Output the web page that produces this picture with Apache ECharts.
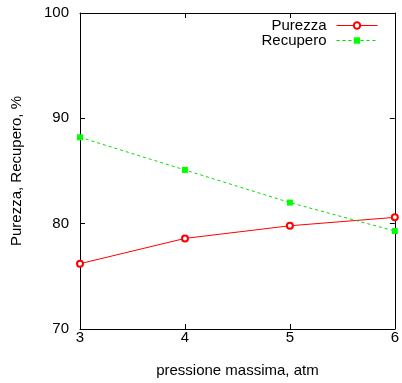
<!DOCTYPE html>
<html>
<head>
<meta charset="utf-8">
<style>
  html, body { margin: 0; padding: 0; background: #ffffff; }
  #chart { width: 402px; height: 383px; }
</style>
<script src="https://cdn.jsdelivr.net/npm/echarts@6/dist/echarts.min.js"></script>
</head>
<body>
<div id="chart"></div>
<script>
// Pressure values (atm) and measured percentages
const pressioni = [3, 4, 5, 6];
const purezza = [76.2, 78.6, 79.8, 80.6];
const recupero = [88.2, 85.1, 82.0, 79.3];

const xTicks = { min: 3, max: 6, interval: 1 };
const yTicks = { min: 70, max: 100, interval: 10 };

const FONT = 'Liberation Sans, Arial, sans-serif';
const FS = 15;

const chart = echarts.init(document.getElementById('chart'), null, { renderer: 'canvas' });

const axisCommon = {
  axisLine: { show: true, onZero: false, lineStyle: { color: '#000', width: 1 } },
  axisTick: { show: true, inside: true, length: 5, lineStyle: { color: '#000', width: 1 } },
  splitLine: { show: false },
  minorTick: { show: false }
};

chart.setOption({
  animation: false,
  backgroundColor: '#ffffff',
  grid: { left: 80, right: 6, top: 13, bottom: 54, containLabel: false },
  legend: {
    orient: 'vertical',
    align: 'right',
    right: 24,
    top: 18,
    padding: 0,
    itemWidth: 41,
    itemHeight: 8,
    itemGap: 0,
    lineStyle: { width: 1 },
    textStyle: { fontFamily: FONT, fontSize: FS, lineHeight: 15, color: '#000', padding: [0, 5, 0, 0] },
    data: ['Purezza', 'Recupero']
  },
  xAxis: [
    Object.assign({}, axisCommon, {
      type: 'value',
      min: xTicks.min, max: xTicks.max, interval: xTicks.interval,
      position: 'bottom',
      name: 'pressione massima, atm',
      nameLocation: 'middle',
      nameGap: 34,
      nameTextStyle: { fontFamily: FONT, fontSize: FS, color: '#000' },
      axisLabel: { fontFamily: FONT, fontSize: FS, color: '#000', margin: 1 }
    }),
    Object.assign({}, axisCommon, {
      type: 'value',
      min: xTicks.min, max: xTicks.max, interval: xTicks.interval,
      position: 'top',
      axisLabel: { show: false }
    })
  ],
  yAxis: [
    Object.assign({}, axisCommon, {
      type: 'value',
      min: yTicks.min, max: yTicks.max, interval: yTicks.interval,
      position: 'left',
      name: 'Purezza, Recupero, %',
      nameLocation: 'middle',
      nameGap: 56,
      nameRotate: 90,
      nameTextStyle: { fontFamily: FONT, fontSize: FS, color: '#000' },
      axisLabel: { fontFamily: FONT, fontSize: FS, color: '#000', margin: 11 }
    }),
    Object.assign({}, axisCommon, {
      type: 'value',
      min: yTicks.min, max: yTicks.max, interval: yTicks.interval,
      position: 'right',
      axisLabel: { show: false }
    })
  ],
  series: [
    {
      name: 'Purezza',
      type: 'line',
      xAxisIndex: 0,
      yAxisIndex: 0,
      data: pressioni.map((p, i) => [p, purezza[i]]),
      symbol: 'emptyCircle',
      symbolSize: 6,
      showAllSymbol: true,
      clip: false,
      color: '#ff0000',
      lineStyle: { color: '#ff0000', width: 1 },
      itemStyle: { color: '#ff0000', borderColor: '#ff0000', borderWidth: 1 }
    },
    {
      name: 'Recupero',
      type: 'line',
      xAxisIndex: 0,
      yAxisIndex: 0,
      data: pressioni.map((p, i) => [p, recupero[i]]),
      symbol: 'rect',
      symbolSize: 6,
      showAllSymbol: true,
      clip: false,
      color: '#00ff00',
      lineStyle: { color: '#00e000', width: 1, type: [3, 3] },
      itemStyle: { color: '#00ff00' }
    }
  ]
});
</script>
</body>
</html>
